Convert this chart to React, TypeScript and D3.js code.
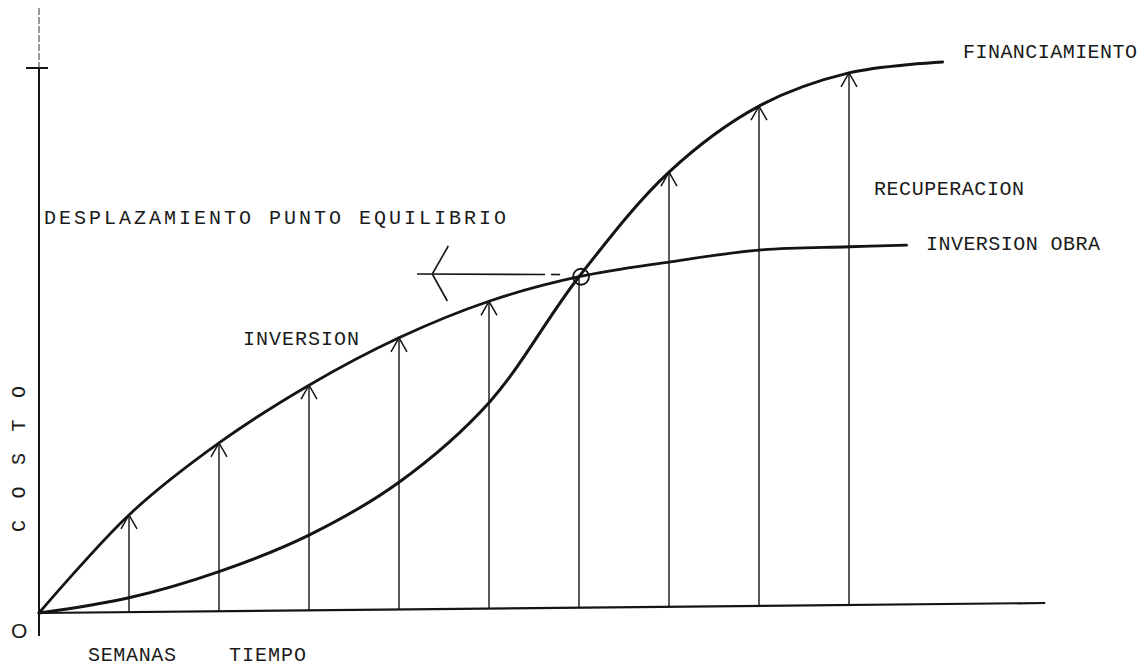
import React from "react";
import * as d3 from "d3";

// ---- data ----
const weeks = [0, 1, 2, 3, 4, 5, 6, 7, 8, 9];
const inversionCost = [0, 18.0, 31.2, 41.8, 50.5, 57.2, 61.7, 64.4, 66.6, 67.2];
const inversionEndWeek = 9.64;
const inversionEndCost = 67.5;
const financiamientoCost = [0, 2.8, 7.6, 14.3, 24.0, 38.6, 61.7, 80.9, 93.0, 99.1];
const financiamientoEndWeek = 10.04;
const financiamientoEndCost = 101.1;
const arrowWeeksInversion = [1, 2, 3, 4, 5];
const arrowWeeksFinanciamiento = [7, 8, 9];
const equilibriumWeek = 6;
const yTickCost = 100;
const xAxisEndWeek = 11.18;
const displacementFromWeek = 5.79;
const displacementToWeek = 4.2;
const displacementHeadWeek = 4.37;
const displacementCost = 62.2;

const W = 1148;
const H = 668;

const x = d3.scaleLinear().domain([0, 10]).range([39, 939]);
const y = d3.scaleLinear().domain([0, 100]).range([613, 68]);

// hand-drawn x axis rises slightly to the right
const axisY0 = y(0);
const axisY1 = axisY0 - 10;
const baseY = (px: number) =>
  axisY0 + ((px - x(0)) / (x(xAxisEndWeek) - x(0))) * (axisY1 - axisY0);

const line = d3
  .line<[number, number]>()
  .x((d) => x(d[0]))
  .y((d) => y(d[1]))
  .curve(d3.curveCatmullRom.alpha(0.5));

const invPts: [number, number][] = [
  ...weeks.map((w, i) => [w, inversionCost[i]] as [number, number]),
  [inversionEndWeek, inversionEndCost],
];
const finPts: [number, number][] = [
  ...weeks.map((w, i) => [w, financiamientoCost[i]] as [number, number]),
  [financiamientoEndWeek, financiamientoEndCost],
];

const FONT = "'Liberation Mono', 'Courier New', monospace";
const INK = "#141414";
const TEXT = "#1a1a1a";

function Label({ x0, cy, w, text, size = 20 }: { x0: number; cy: number; w: number; text: string; size?: number }) {
  return (
    <text
      x={x0}
      y={cy + size * 0.33}
      fontFamily={FONT}
      fontSize={size}
      fill={TEXT}
      textLength={w}
      lengthAdjust="spacing"
    >
      {text}
    </text>
  );
}

function Arrow({ px, tipY }: { px: number; tipY: number }) {
  const b = baseY(px);
  return (
    <g stroke={INK} fill="none">
      <line x1={px} y1={b} x2={px} y2={tipY} strokeWidth={1.4} />
      <polyline
        points={`${px - 8},${tipY + 14} ${px},${tipY} ${px + 8},${tipY + 14}`}
        strokeWidth={1.5}
      />
    </g>
  );
}

export default function App() {
  const eqX = x(equilibriumWeek);
  const eqY = y(inversionCost[weeks.indexOf(equilibriumWeek)]);
  const dY = y(displacementCost);
  const hx = x(displacementHeadWeek);
  return (
    <svg
      width={W}
      height={H}
      style={{ position: "absolute", left: 0, top: 0, background: "#fff" }}
    >
      <rect width={W} height={H} fill="#fff" />
      {/* y axis */}
      <line x1={x(0)} y1={8} x2={x(0)} y2={y(yTickCost)} stroke="#666" strokeWidth={1.3} strokeDasharray="7 2" />
      <line x1={x(0)} y1={y(yTickCost)} x2={x(0)} y2={636} stroke={INK} strokeWidth={2} />
      <line x1={x(0) - 13} y1={y(yTickCost)} x2={x(0) + 9} y2={y(yTickCost)} stroke={INK} strokeWidth={2} />
      {/* x axis */}
      <line x1={x(0)} y1={axisY0} x2={x(xAxisEndWeek)} y2={axisY1} stroke={INK} strokeWidth={2.2} />

      {/* vertical arrows */}
      {arrowWeeksInversion.map((w) => (
        <Arrow key={"i" + w} px={x(w)} tipY={y(inversionCost[weeks.indexOf(w)])} />
      ))}
      {arrowWeeksFinanciamiento.map((w) => (
        <Arrow key={"f" + w} px={x(w)} tipY={y(financiamientoCost[weeks.indexOf(w)])} />
      ))}
      <line x1={eqX} y1={baseY(eqX)} x2={eqX} y2={eqY} stroke={INK} strokeWidth={1.4} />

      {/* curves */}
      <path d={line(invPts) || ""} fill="none" stroke={INK} strokeWidth={2.8} strokeLinecap="round" />
      <path d={line(finPts) || ""} fill="none" stroke={INK} strokeWidth={3} strokeLinecap="round" />

      {/* equilibrium circle */}
      <circle cx={eqX + 2} cy={eqY} r={8} fill="none" stroke={INK} strokeWidth={1.8} />

      {/* displacement arrow */}
      <g stroke={INK} fill="none" strokeWidth={1.6}>
        <line x1={x(displacementToWeek)} y1={dY} x2={x(displacementFromWeek) - 15} y2={dY + 0.5} />
        <line x1={x(displacementFromWeek) - 9} y1={dY + 0.5} x2={x(displacementFromWeek)} y2={dY + 0.5} />
        <line x1={hx + 16} y1={dY - 28} x2={hx} y2={dY} />
        <line x1={hx} y1={dY} x2={hx + 15} y2={dY + 27} />
      </g>

      {/* labels */}
      <Label x0={44} cy={217} w={462} text="DESPLAZAMIENTO PUNTO EQUILIBRIO" />
      <Label x0={243} cy={338} w={116} text="INVERSION" />
      <Label x0={963} cy={51} w={174} text="FINANCIAMIENTO" />
      <Label x0={874} cy={188} w={150} text="RECUPERACION" />
      <Label x0={926} cy={243} w={174} text="INVERSION OBRA" />
      <Label x0={88} cy={654} w={88} text="SEMANAS" />
      <Label x0={229} cy={654} w={77} text="TIEMPO" />
      <text
        transform={`translate(${18 + 20 * 0.33},532) rotate(-90)`}
        fontFamily={FONT}
        fontSize={20}
        fill={TEXT}
        textLength={146}
        lengthAdjust="spacing"
      >
        COSTO
      </text>
      <text x={11} y={638} fontFamily="'Liberation Sans', Arial, sans-serif" fontSize={21} fill={TEXT}>
        O
      </text>
    </svg>
  );
}
